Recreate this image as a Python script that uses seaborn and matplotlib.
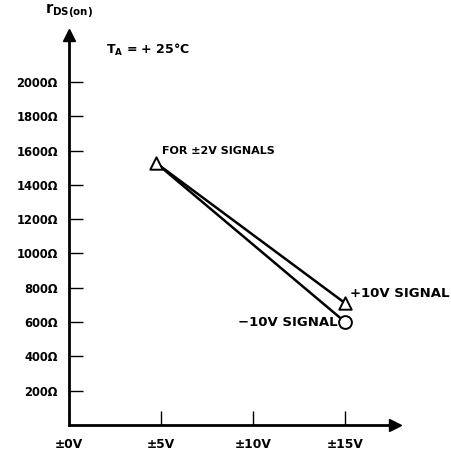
import matplotlib
matplotlib.use("Agg")
import matplotlib.pyplot as plt
import seaborn as sns
import pandas as pd

# Supply voltage (±V) and on-resistance (Ω) for the two signal polarities
supply_v = [4.7, 15.0]
r_pos_signal = [1530, 710]
r_neg_signal = [1530, 600]
series_names = ["+10V SIGNAL", "−10V SIGNAL"]

y_ticks = [200, 400, 600, 800, 1000, 1200, 1400, 1600, 1800, 2000]
y_tick_labels = [f"{v}Ω" for v in y_ticks]
x_ticks = [0, 5, 10, 15]
x_tick_labels = ["±0V", "±5V", "±10V", "±15V"]

df = pd.DataFrame({
    "supply": supply_v * 2,
    "rds": r_pos_signal + r_neg_signal,
    "signal": [series_names[0]] * 2 + [series_names[1]] * 2,
})

sns.set_style("white")
plt.rcParams["font.family"] = ["DejaVu Sans"]
plt.rcParams["font.weight"] = "bold"
plt.rcParams["text.color"] = "black"
plt.rcParams["xtick.color"] = "black"
plt.rcParams["ytick.color"] = "black"

fig = plt.figure(figsize=(4.52, 4.53), dpi=100)
ax = fig.add_axes([0.1527, 0.0618, 0.721, 0.861])

sns.lineplot(data=df, x="supply", y="rds", units="signal", estimator=None,
             color="black", linewidth=1.8, ax=ax, legend=False)

# End markers: open triangles for the common start and +10V end, circle for −10V
start = df[df["supply"] == supply_v[0]].iloc[:1]
end_pos = df[(df["signal"] == series_names[0]) & (df["supply"] == supply_v[1])]
end_neg = df[(df["signal"] == series_names[1]) & (df["supply"] == supply_v[1])]
for sub, mk, size in [(start, "^", 80), (end_pos, "^", 80), (end_neg, "o", 85)]:
    sns.scatterplot(data=sub, x="supply", y="rds", marker=mk, s=size,
                    facecolor="white", edgecolor="black", linewidth=1.4,
                    ax=ax, zorder=5, legend=False)

ax.set_xlim(0, 17.7)
ax.set_ylim(0, 2274)
ax.set_xticks(x_ticks)
ax.set_xticklabels(x_tick_labels, fontsize=8.8, fontweight="bold")
ax.set_yticks(y_ticks)
ax.set_yticklabels(y_tick_labels, fontsize=8.3, fontweight="bold")
ax.tick_params(axis="both", direction="in", length=10, width=1.0,
               colors="black", bottom=True, left=True)
ax.tick_params(axis="y", pad=8)
ax.tick_params(axis="x", pad=9)
ax.set_xlabel("")
ax.set_ylabel("")

for side in ["top", "right"]:
    ax.spines[side].set_visible(False)
for side in ["left", "bottom"]:
    ax.spines[side].set_linewidth(2.0)
    ax.spines[side].set_color("black")

# Arrowheads at the ends of both axes
ax.plot(1, 0, ">", color="black", markersize=9, transform=ax.transAxes, clip_on=False)
ax.plot(0, 1, "^", color="black", markersize=9, transform=ax.transAxes, clip_on=False)

ax.text(0.0, 1.035, r"$\mathbf{r}_{\mathbf{DS(on)}}$", transform=ax.transAxes,
        ha="center", va="bottom", fontsize=10.5, color="black")
ax.text(2.0, 2185, r"$\mathbf{T_A}$ = + 25°C", fontsize=9, fontweight="bold",
        ha="left", va="center", color="black")

ax.text(supply_v[0] + 0.35, r_pos_signal[0] + 40, "FOR ±2V SIGNALS", fontsize=8,
        fontweight="bold", ha="left", va="bottom", color="black")
ax.text(supply_v[1] + 0.25, r_pos_signal[1] + 55, series_names[0], fontsize=9.5,
        fontweight="bold", ha="left", va="center", color="black")
ax.text(supply_v[1] - 0.4, r_neg_signal[1], series_names[1], fontsize=9.5,
        fontweight="bold", ha="right", va="center", color="black")

fig.savefig("out.png", dpi=100, facecolor="white")
